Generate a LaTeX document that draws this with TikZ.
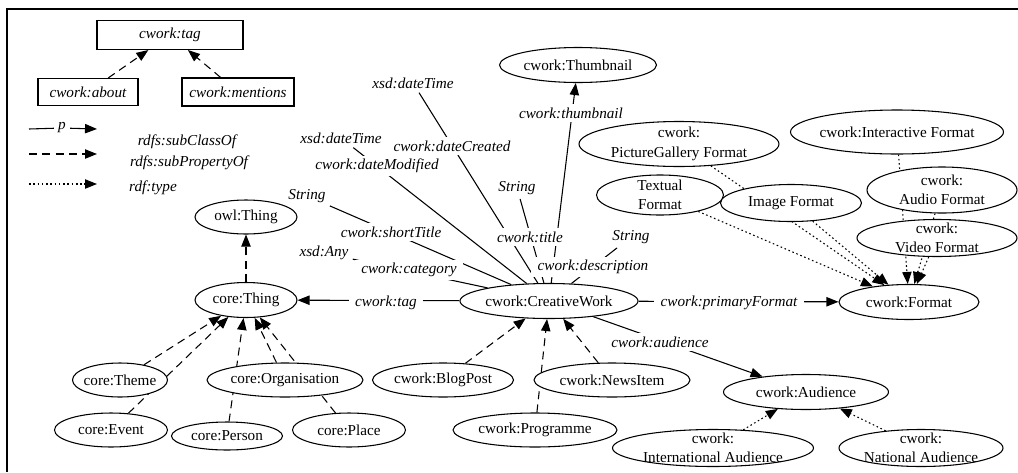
\documentclass[tikz,border=0pt]{standalone}
\usepackage{fontspec}
\setmainfont{Liberation Serif}
\usetikzlibrary{shapes.geometric,arrows.meta}
\pgfdeclarelayer{edges}
\pgfsetlayers{edges,main}
\begin{document}
\begin{tikzpicture}[x=0.75pt,y=-0.75pt,
 font=\fontsize{11.4}{14.5}\selectfont,
 every node/.style={inner sep=0pt},
 cls/.style n args={3}{ellipse,draw,fill=white,line width=0.8pt,
   minimum width=#1*0.75pt,minimum height=#2*0.75pt,
   label={[align=center]center:#3}},
 prop/.style n args={2}{draw,fill=white,line width=0.8pt,
   font=\fontsize{11.4}{14.5}\selectfont\itshape,
   minimum width=#1*0.75pt,minimum height=#2*0.75pt},
 lit/.style={font=\fontsize{11.4}{14.5}\selectfont\itshape,inner sep=3pt},
 lbl/.style={lit,fill=white,inner xsep=5pt,inner ysep=2.5pt},
 link/.style={line width=0.8pt},
 rel/.style={link,-{Triangle[length=9pt,width=7pt]}},
 sub/.style={rel,dash pattern=on 6pt off 4pt},
 inst/.style={rel,dash pattern=on 1.2pt off 2pt}]
 \useasboundingbox (0,0) rectangle (1018,472);
 \draw[line width=1.2pt] (7,472) -- (7,9) -- (1018,9);

 \node[prop={146}{29}] (tag) at (170,35) {cwork:tag};
 \node[prop={100}{27}] (about) at (88,92) {cwork:about};
 \node[prop={112}{28}] (mentions) at (238,92) {cwork:mentions};
 \coordinate (pa) at (29,129);
 \node[lit] (pp) at (62,128) {p};
 \coordinate (pb) at (97,129);
 \coordinate (sa) at (29,154);
 \coordinate (sb) at (97,154);
 \coordinate (ta) at (29,184);
 \coordinate (tb) at (97,184);
 \node[lit] (subcls) at (187,142) {rdfs:subClassOf};
 \node[lit] (subprop) at (189,163) {rdfs:subPropertyOf};
 \node[lit] (rdftype) at (153,188) {rdf:type};

 \node[cls={102}{34}{owl:Thing}] (owlThing) at (246,217) {};
 \node[cls={102}{35}{core:Thing}] (coreThing) at (246,300) {};
 \node[cls={95}{34}{core:Theme}] (coreTheme) at (120,380) {};
 \node[cls={156}{34}{core:Organisation}] (coreOrg) at (285,380) {};
 \node[cls={113}{34}{core:Event}] (coreEvent) at (111,430) {};
 \node[cls={111}{28}{core:Person}] (corePerson) at (227,436) {};
 \node[cls={113}{34}{core:Place}] (corePlace) at (349,430) {};

 \node[cls={178}{35}{cwork:CreativeWork}] (cw) at (549,301) {};
 \node[cls={141}{34}{cwork:BlogPost}] (blog) at (443,380) {};
 \node[cls={156}{34}{cwork:NewsItem}] (news) at (612,380) {};
 \node[cls={164}{34}{cwork:Programme}] (prog) at (535,430) {};
 \node[cls={165}{35}{cwork:Audience}] (audience) at (806,392) {};
 \node[cls={201}{37}{cwork:\\International Audience}] (intl) at (713,448) {};
 \node[cls={164}{37}{cwork:\\National Audience}] (natl) at (921,448) {};

 \node[cls={140}{35}{cwork:Format}] (format) at (909,302) {};
 \node[cls={157}{35}{cwork:Thumbnail}] (thumb) at (578,65) {};
 \node[cls={200}{45}{cwork:\\PictureGallery Format}] (picgal) at (679,144) {};
 \node[cls={213}{44}{cwork:Interactive Format}] (interactive) at (897,132) {};
 \node[cls={127}{40}{Textual\\Format}] (textual) at (660,195) {};
 \node[cls={141}{37}{Image Format}] (image) at (791,203) {};
 \node[cls={150}{46}{cwork:\\Audio Format}] (audio) at (942,190) {};
 \node[cls={160}{37}{cwork:\\Video Format}] (video) at (937,238) {};

 \node[lit] (dtA) at (413,83) {xsd:dateTime};
 \node[lit] (dtB) at (341,138) {xsd:dateTime};
 \node[lit] (strShort) at (307,196) {String};
 \node[lit] (xsdAny) at (324,253) {xsd:Any};
 \node[lit] (strTitle) at (517,188) {String};
 \node[lit] (strDesc) at (631,237) {String};

 \begin{pgfonlayer}{edges}
 \draw[sub] (about) -- (tag);
 \draw[sub] (mentions) -- (tag);
 \draw[link] (pa) -- (pp);
 \draw[rel] (pp) -- (pb);
 \draw[sub] (sa) -- (sb);
 \draw[inst] (ta) -- (tb);

 \draw[sub] (coreThing) -- (owlThing);
 \draw[sub] (coreTheme) -- (coreThing);
 \draw[sub] (coreEvent) -- (coreThing);
 \draw[sub] (coreOrg) -- (coreThing);
 \draw[sub] (corePerson) -- (coreThing);
 \draw[sub] (corePlace) -- (coreThing);

 \draw[sub] (blog) -- (cw);
 \draw[sub] (prog) -- (cw);
 \draw[sub] (news) -- (cw);
 \draw[rel] (cw) -- (coreThing);
 \draw[rel] (cw) -- (format);
 \draw[rel] (cw) -- (audience);
 \draw[rel] (cw) -- (thumb);
 \draw[inst] (intl) -- (audience);
 \draw[inst] (natl) -- (audience);

 \draw[inst] (textual) -- (format);
 \draw[inst] (image) -- (format);
 \draw[inst] (picgal) -- (format);
 \draw[inst] (interactive) -- (format);
 \draw[inst] (audio) -- (format);
 \draw[inst] (video) -- (format);

 \draw[link] (dtA) -- (cw);
 \draw[link] (dtB) -- (cw);
 \draw[link] (strShort) -- (cw);
 \draw[link] (xsdAny) -- (cw);
 \draw[link] (strTitle) -- (cw);
 \draw[link] (strDesc) -- (cw);

 \node[lbl] (lblCreated) at (452,146) {cwork:dateCreated};
 \node[lbl] (lblModified) at (377,166) {cwork:dateModified};
 \node[lbl] (lblShort) at (391,232) {cwork:shortTitle};
 \node[lbl] (lblCategory) at (409,270) {cwork:category};
 \node[lbl] (lblTitle) at (530,237) {cwork:title};
 \node[lbl] (lblDesc) at (593,267) {cwork:description};
 \node[lbl] (lblThumb) at (571,113) {cwork:thumbnail};
 \node[lbl] (lblTag) at (386,303) {cwork:tag};
 \node[lbl] (lblPrimary) at (729,303) {cwork:primaryFormat};
 \node[lbl] (lblAudience) at (660,342) {cwork:audience};
 \end{pgfonlayer}
\end{tikzpicture}
\end{document}
